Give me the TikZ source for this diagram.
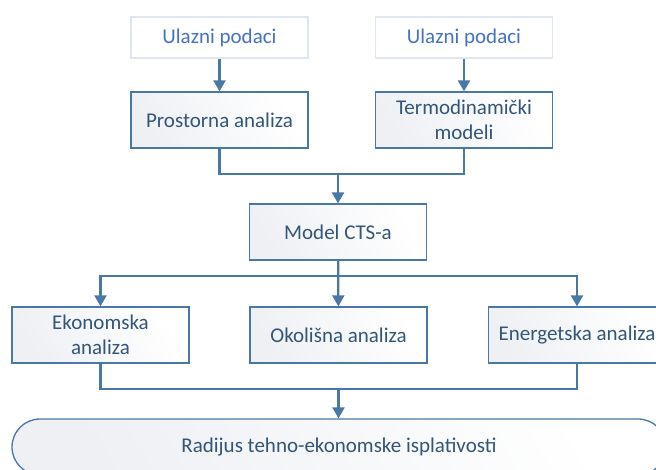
\documentclass[tikz,border=0pt]{standalone}
\usepackage{fontspec}
\setmainfont{Carlito}
\usetikzlibrary{arrows.meta}
\definecolor{edge}{HTML}{4A78A6}
\definecolor{txt}{HTML}{34557A}
\definecolor{inblue}{HTML}{4472C4}
\definecolor{inedge}{HTML}{DFE5F1}
\definecolor{boxgrey}{HTML}{EEF0F4}

\begin{document}
\begin{tikzpicture}[x=1pt,y=-1pt,
    box/.style={draw=edge,line width=1.3pt,
      left color=boxgrey,right color=white,shading angle=120,
      text=txt,font=\fontsize{21}{25}\selectfont,align=center,
      minimum width=177pt,minimum height=56pt,inner sep=2pt},
    inbox/.style={draw=inedge,line width=1.2pt,fill=white,text=inblue,
      font=\fontsize{21}{25}\selectfont,minimum width=177pt,minimum height=41pt},
    conn/.style={draw=edge,line width=2.2pt},
    arr/.style={conn,-{Triangle[width=12pt,length=11pt]}}]
    \useasboundingbox (0,0) rectangle (656,469);
    \clip (0,0) rectangle (656,469);

    \node[inbox] (in1) at (219.5,37.5) {Ulazni podaci};
    \node[inbox] (in2) at (464,37.5) {Ulazni podaci};

    \node[box] (pa) at (219.5,120) {Prostorna analiza};
    \node[box] (tm) at (464,120) {Termodinami\v{c}ki\\modeli};

    \node[box] (cts) at (338,232) {Model CTS-a};

    \node[box] (ea) at (100.5,335) {Ekonomska\\analiza};
    \node[box] (oa) at (338.5,335) {Okoli\v{s}na analiza};
    \node[box] (ena) at (577,335) {Energetska analiza};

    \node[box,minimum width=654pt,rounded corners=28pt] (rad) at (339,447) {Radijus tehno-ekonomske isplativosti};

    \coordinate (j1) at (338,174);
    \coordinate (j2) at (338,276);
    \coordinate (j3) at (338,389);

    \draw[arr] (in1) -- (pa);
    \draw[arr] (in2) -- (tm);
    \draw[conn] (pa.south) |- (j1) -| (tm.south);
    \draw[arr] (j1) -- (cts);

    \draw[arr] (cts) -- (oa);
    \draw[arr] (j2) -| (ea.north);
    \draw[arr] (j2) -| (ena.north);

    \draw[conn] (ea.south) |- (j3) -| (ena.south);
    \draw[arr] (oa.south |- j3) -- (rad.north -| oa.south);
\end{tikzpicture}
\end{document}
